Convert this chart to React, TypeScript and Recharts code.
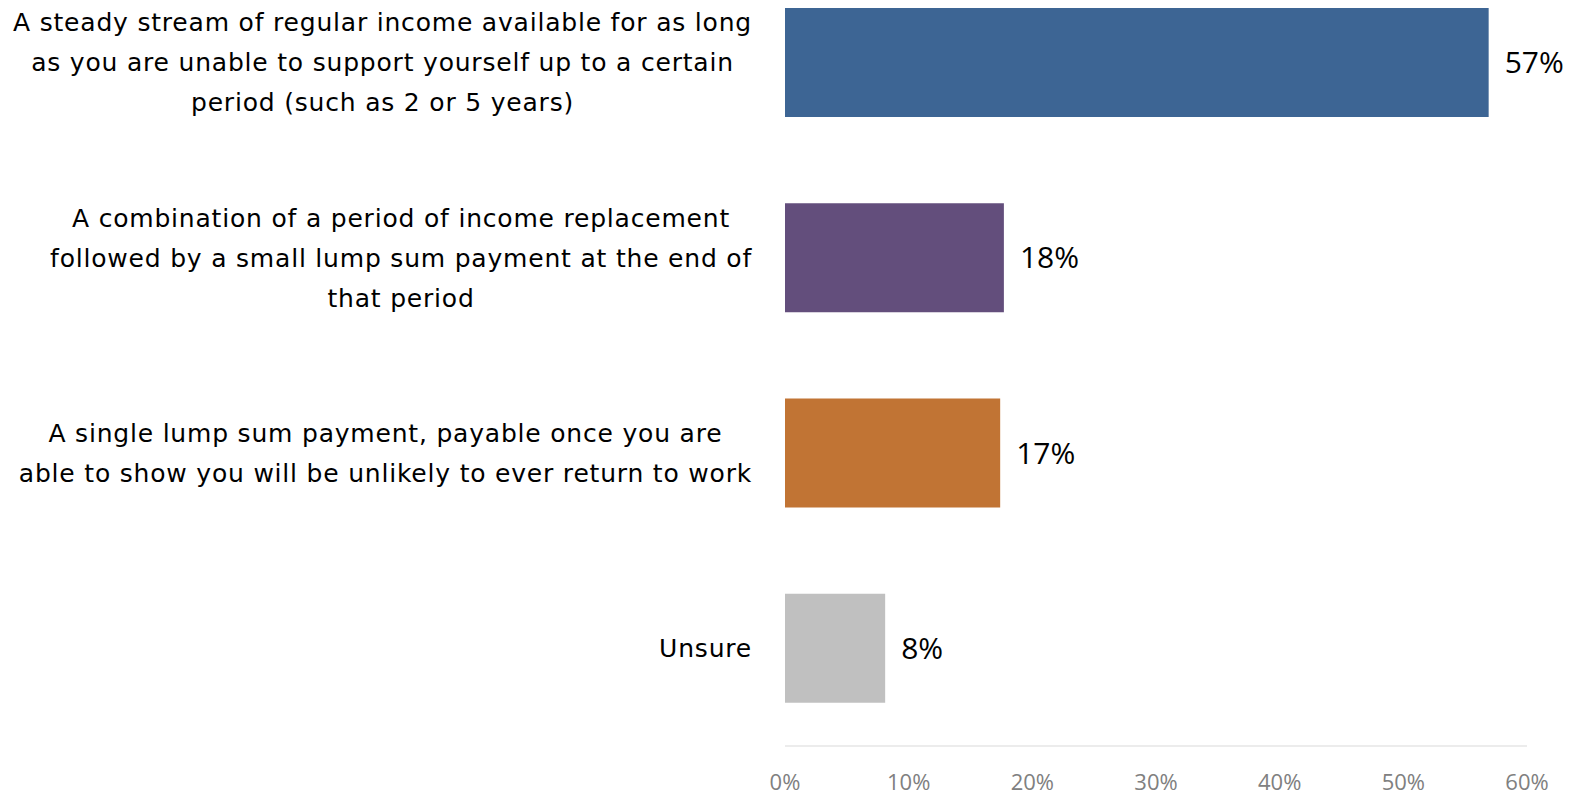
import { BarChart, Bar, XAxis, YAxis, Cell, LabelList } from "recharts";

const categories = [
  "A steady stream of regular income available for as long\nas you are unable to support yourself up to a certain\nperiod (such as 2 or 5 years)",
  "A combination of a period of income replacement\nfollowed by a small lump sum payment at the end of\nthat period",
  "A single lump sum payment, payable once you are\nable to show you will be unlikely to ever return to work",
  "Unsure",
];
const shares = [56.9, 17.7, 17.4, 8.1];
const barColors = ["#3D6594", "#634E7C", "#C17434", "#C0C0C0"];
const xTicks = [0, 10, 20, 30, 40, 50, 60];

const FONT = "'Open Sans', sans-serif";
const CAT_FONT = "'DejaVu Sans', sans-serif";
const CAT_SIZE = 25;
const CAT_SPACING = 0.8;
const LINE_H = 40;
const LABEL_RIGHT = 752;

const data = categories.map((name, i) => ({
  name,
  value: shares[i],
  color: barColors[i],
}));

let ctx: CanvasRenderingContext2D | null = null;
function textWidth(s: string) {
  if (!ctx) ctx = document.createElement("canvas").getContext("2d");
  if (!ctx) return s.length * CAT_SIZE * 0.6;
  ctx.font = `${CAT_SIZE}px 'DejaVu Sans'`;
  return ctx.measureText(s).width + s.length * CAT_SPACING;
}

function CategoryTick(props: any) {
  const { y, payload } = props;
  const lines: string[] = String(payload.value).split("\n");
  const maxW = Math.max(...lines.map(textWidth));
  const cx = LABEL_RIGHT - maxW / 2;
  const top = y - ((lines.length - 1) * LINE_H) / 2;
  return (
    <g>
      {lines.map((line, i) => (
        <text
          key={i}
          x={cx}
          y={top + i * LINE_H}
          dy="0.35em"
          textAnchor="middle"
          fill="#000"
          fontSize={CAT_SIZE}
          fontFamily={CAT_FONT}
          letterSpacing={CAT_SPACING}
        >
          {line}
        </text>
      ))}
    </g>
  );
}

export default function App() {
  return (
    <div style={{ position: "absolute", left: 0, top: -35 }}>
      <BarChart
        width={1572}
        height={832}
        data={data}
        layout="vertical"
        margin={{ top: 0, right: 45, bottom: 0, left: 0 }}
      >
        <XAxis
          type="number"
          domain={[0, 60]}
          ticks={xTicks}
          tickFormatter={(v: number) => `${v}%`}
          axisLine={{ stroke: "#D9D9D9" }}
          tickLine={false}
          tickSize={0}
          tickMargin={28}
          height={51}
          tick={{ fill: "#808080", fontSize: 22, fontFamily: FONT }}
          interval={0}
        />
        <YAxis
          type="category"
          dataKey="name"
          width={785}
          axisLine={false}
          tickLine={false}
          tick={<CategoryTick />}
          interval={0}
        />
        <Bar dataKey="value" barSize={109} isAnimationActive={false}>
          {data.map((d, i) => (
            <Cell key={i} fill={d.color} />
          ))}
          <LabelList
            dataKey="value"
            position="right"
            offset={16}
            formatter={(v: any) => `${Math.round(Number(v))}%`}
            fill="#000"
            fontSize={30}
            fontFamily={FONT}
          />
        </Bar>
      </BarChart>
    </div>
  );
}
